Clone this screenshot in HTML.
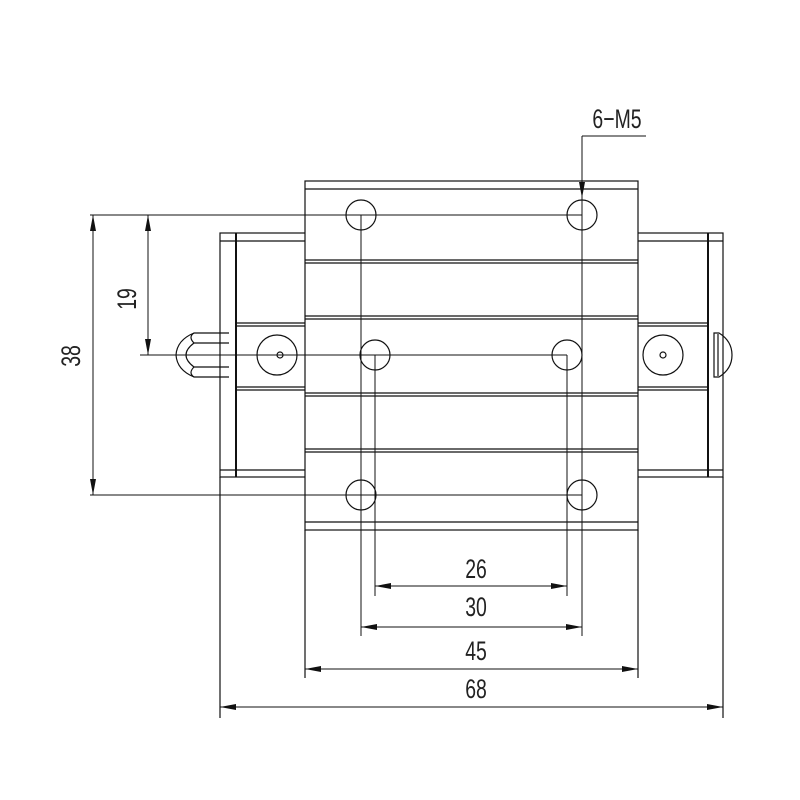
<!DOCTYPE html>
<html><head><style>body{margin:0;background:#fff}svg{display:block}text{font-family:"Liberation Sans",sans-serif;font-size:27px;fill:#222}</style></head>
<body>
<svg width="800" height="800" viewBox="0 0 800 800" xmlns="http://www.w3.org/2000/svg">
<defs><marker id="a" viewBox="0 0 16 6" refX="16" refY="3" markerWidth="16" markerHeight="6" orient="auto-start-reverse" markerUnits="userSpaceOnUse"><path d="M0,0L16,3L0,6z" fill="#111"/></marker></defs>
<g stroke="#111" stroke-width="1.2" fill="none">
<rect x="220" y="233" width="503" height="244" fill="#fff"/>
<line x1="236" y1="233" x2="236" y2="477" stroke-width="2"/>
<line x1="708" y1="233" x2="708" y2="477" stroke-width="2"/>
<line x1="220" y1="241" x2="723" y2="241"/>
<line x1="220" y1="470" x2="723" y2="470"/>
<line x1="236" y1="323" x2="708" y2="323"/><line x1="236" y1="326" x2="708" y2="326"/>
<line x1="236" y1="387" x2="708" y2="387"/><line x1="236" y1="390" x2="708" y2="390"/>
<line x1="220" y1="477" x2="220" y2="718"/><line x1="723" y1="477" x2="723" y2="718"/>
<circle cx="277" cy="355" r="20"/><circle cx="280" cy="355" r="3"/>
<circle cx="663" cy="355" r="20"/><circle cx="663" cy="355" r="3"/>
<path d="M229,333H194Q177,340 176,355Q177,370 194,377H229"/>
<line x1="194" y1="343" x2="229" y2="343"/><line x1="194" y1="367" x2="229" y2="367"/>
<path d="M194,333Q188,337 194,343M194,367Q188,373 194,377"/>
<path d="M194,343Q186,349 186,355Q186,361 194,367"/>
<path d="M714,333h5q13,8 13,22q0,14 -13,22h-5z"/>
<line x1="718" y1="334" x2="718" y2="376"/>
<rect x="305" y="181" width="333" height="349" fill="#fff"/>
<line x1="305" y1="189" x2="638" y2="189"/>
<line x1="305" y1="260" x2="638" y2="260"/><line x1="305" y1="263" x2="638" y2="263"/>
<line x1="305" y1="316" x2="638" y2="316"/><line x1="305" y1="319" x2="638" y2="319"/>
<line x1="305" y1="393" x2="638" y2="393"/><line x1="305" y1="396" x2="638" y2="396"/>
<line x1="305" y1="449" x2="638" y2="449"/><line x1="305" y1="452" x2="638" y2="452"/>
<line x1="305" y1="522" x2="638" y2="522"/>
<line x1="305" y1="530" x2="305" y2="678"/><line x1="638" y1="530" x2="638" y2="678"/>
<circle cx="361" cy="215" r="15"/><circle cx="582" cy="215" r="15"/>
<circle cx="375" cy="355" r="15"/><circle cx="567" cy="355" r="15"/>
<circle cx="361" cy="495" r="15"/><circle cx="582" cy="495" r="15"/>
<g stroke-width="1">
<line x1="90" y1="215" x2="582" y2="215"/>
<line x1="140" y1="355" x2="567" y2="355"/>
<line x1="90" y1="495" x2="582" y2="495"/>
<line x1="361" y1="215" x2="361" y2="636"/>
<line x1="582" y1="136" x2="582" y2="636"/>
<line x1="375" y1="355" x2="375" y2="596"/>
<line x1="567" y1="355" x2="567" y2="596"/>
<line x1="582" y1="136" x2="646" y2="136"/>
<line x1="582" y1="150" x2="582" y2="198" marker-end="url(#a)"/>
<line x1="93" y1="215" x2="93" y2="495" marker-start="url(#a)" marker-end="url(#a)"/>
<line x1="148" y1="215" x2="148" y2="355" marker-start="url(#a)" marker-end="url(#a)"/>
<line x1="375" y1="586" x2="567" y2="586" marker-start="url(#a)" marker-end="url(#a)"/>
<line x1="361" y1="627" x2="582" y2="627" marker-start="url(#a)" marker-end="url(#a)"/>
<line x1="305" y1="669" x2="638" y2="669" marker-start="url(#a)" marker-end="url(#a)"/>
<line x1="220" y1="707" x2="723" y2="707" marker-start="url(#a)" marker-end="url(#a)"/>
</g>
</g>
<g text-anchor="middle">
<text transform="translate(476,578) scale(0.72,1)">26</text>
<text transform="translate(476,616) scale(0.72,1)">30</text>
<text transform="translate(476,660) scale(0.72,1)">45</text>
<text transform="translate(476,698) scale(0.72,1)">68</text>
<text transform="translate(617,128) scale(0.72,1)">6−M5</text>
<text transform="translate(80,356) rotate(-90) scale(0.72,1)">38</text>
<text transform="translate(136,299) rotate(-90) scale(0.72,1)">19</text>
</g>
</svg>
</body></html>
